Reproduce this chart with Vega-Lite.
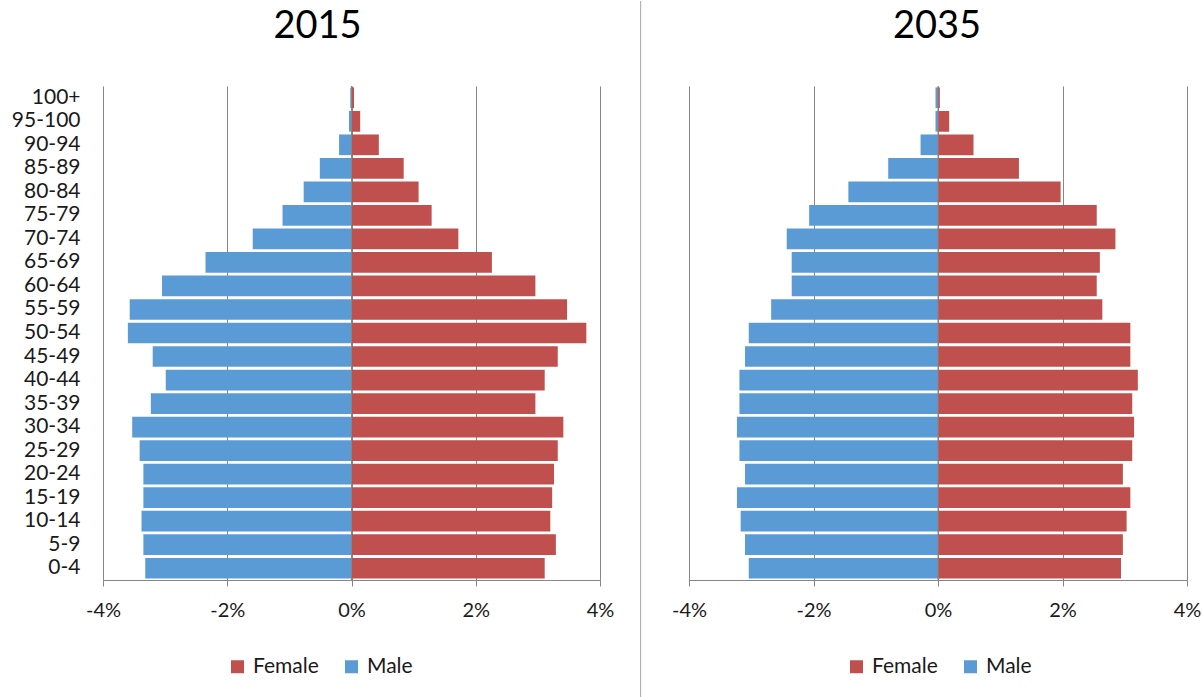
{
  "$schema": "https://vega.github.io/schema/vega-lite/v6.json",
  "padding": {"left": 11, "top": 0, "right": 0, "bottom": 0},
  "bounds": "flush",
  "spacing": 89,
  "datasets": {
    "y2015": [
      {"age": "100+", "sex": "Male", "share": -0.0002}, {"age": "100+", "sex": "Female", "share": 0.0004},
      {"age": "95-100", "sex": "Male", "share": -0.0004}, {"age": "95-100", "sex": "Female", "share": 0.0014},
      {"age": "90-94", "sex": "Male", "share": -0.0020}, {"age": "90-94", "sex": "Female", "share": 0.0044},
      {"age": "85-89", "sex": "Male", "share": -0.0051}, {"age": "85-89", "sex": "Female", "share": 0.0084},
      {"age": "80-84", "sex": "Male", "share": -0.0077}, {"age": "80-84", "sex": "Female", "share": 0.0108},
      {"age": "75-79", "sex": "Male", "share": -0.0111}, {"age": "75-79", "sex": "Female", "share": 0.0129},
      {"age": "70-74", "sex": "Male", "share": -0.0159}, {"age": "70-74", "sex": "Female", "share": 0.0172},
      {"age": "65-69", "sex": "Male", "share": -0.0235}, {"age": "65-69", "sex": "Female", "share": 0.0226},
      {"age": "60-64", "sex": "Male", "share": -0.0305}, {"age": "60-64", "sex": "Female", "share": 0.0296},
      {"age": "55-59", "sex": "Male", "share": -0.0357}, {"age": "55-59", "sex": "Female", "share": 0.0347},
      {"age": "50-54", "sex": "Male", "share": -0.0360}, {"age": "50-54", "sex": "Female", "share": 0.0378},
      {"age": "45-49", "sex": "Male", "share": -0.0320}, {"age": "45-49", "sex": "Female", "share": 0.0332},
      {"age": "40-44", "sex": "Male", "share": -0.0299}, {"age": "40-44", "sex": "Female", "share": 0.0311},
      {"age": "35-39", "sex": "Male", "share": -0.0323}, {"age": "35-39", "sex": "Female", "share": 0.0296},
      {"age": "30-34", "sex": "Male", "share": -0.0353}, {"age": "30-34", "sex": "Female", "share": 0.0341},
      {"age": "25-29", "sex": "Male", "share": -0.0341}, {"age": "25-29", "sex": "Female", "share": 0.0332},
      {"age": "20-24", "sex": "Male", "share": -0.0335}, {"age": "20-24", "sex": "Female", "share": 0.0326},
      {"age": "15-19", "sex": "Male", "share": -0.0335}, {"age": "15-19", "sex": "Female", "share": 0.0323},
      {"age": "10-14", "sex": "Male", "share": -0.0338}, {"age": "10-14", "sex": "Female", "share": 0.0320},
      {"age": "5-9", "sex": "Male", "share": -0.0335}, {"age": "5-9", "sex": "Female", "share": 0.0329},
      {"age": "0-4", "sex": "Male", "share": -0.0332}, {"age": "0-4", "sex": "Female", "share": 0.0311}
    ],
    "y2035": [
      {"age": "100+", "sex": "Male", "share": -0.0004}, {"age": "100+", "sex": "Female", "share": 0.0003},
      {"age": "95-100", "sex": "Male", "share": -0.0004}, {"age": "95-100", "sex": "Female", "share": 0.0018},
      {"age": "90-94", "sex": "Male", "share": -0.0028}, {"age": "90-94", "sex": "Female", "share": 0.0057},
      {"age": "85-89", "sex": "Male", "share": -0.0080}, {"age": "85-89", "sex": "Female", "share": 0.0130},
      {"age": "80-84", "sex": "Male", "share": -0.0144}, {"age": "80-84", "sex": "Female", "share": 0.0197},
      {"age": "75-79", "sex": "Male", "share": -0.0207}, {"age": "75-79", "sex": "Female", "share": 0.0255},
      {"age": "70-74", "sex": "Male", "share": -0.0243}, {"age": "70-74", "sex": "Female", "share": 0.0285},
      {"age": "65-69", "sex": "Male", "share": -0.0235}, {"age": "65-69", "sex": "Female", "share": 0.0260},
      {"age": "60-64", "sex": "Male", "share": -0.0235}, {"age": "60-64", "sex": "Female", "share": 0.0255},
      {"age": "55-59", "sex": "Male", "share": -0.0268}, {"age": "55-59", "sex": "Female", "share": 0.0264},
      {"age": "50-54", "sex": "Male", "share": -0.0304}, {"age": "50-54", "sex": "Female", "share": 0.0309},
      {"age": "45-49", "sex": "Male", "share": -0.0310}, {"age": "45-49", "sex": "Female", "share": 0.0309},
      {"age": "40-44", "sex": "Male", "share": -0.0319}, {"age": "40-44", "sex": "Female", "share": 0.0321},
      {"age": "35-39", "sex": "Male", "share": -0.0319}, {"age": "35-39", "sex": "Female", "share": 0.0312},
      {"age": "30-34", "sex": "Male", "share": -0.0323}, {"age": "30-34", "sex": "Female", "share": 0.0315},
      {"age": "25-29", "sex": "Male", "share": -0.0319}, {"age": "25-29", "sex": "Female", "share": 0.0312},
      {"age": "20-24", "sex": "Male", "share": -0.0310}, {"age": "20-24", "sex": "Female", "share": 0.0297},
      {"age": "15-19", "sex": "Male", "share": -0.0323}, {"age": "15-19", "sex": "Female", "share": 0.0309},
      {"age": "10-14", "sex": "Male", "share": -0.0317}, {"age": "10-14", "sex": "Female", "share": 0.0303},
      {"age": "5-9", "sex": "Male", "share": -0.0310}, {"age": "5-9", "sex": "Female", "share": 0.0297},
      {"age": "0-4", "sex": "Male", "share": -0.0304}, {"age": "0-4", "sex": "Female", "share": 0.0294}
    ]
  },
  "hconcat": [
    {
      "width": 497,
      "height": 494,
      "title": {"text": "2015", "frame": "group", "fontSize": 38, "fontWeight": "normal", "color": "#000000", "offset": 0, "dy": 45, "dx": -34},
      "resolve": {"scale": {"y": "independent"}, "axis": {"y": "independent"}},
      "layer": [
        {
          "data": {"name": "y2015"},
          "mark": {"type": "bar"},
          "encoding": {
            "y": {"field": "age", "type": "nominal",
              "sort": ["100+", "95-100", "90-94", "85-89", "80-84", "75-79", "70-74", "65-69", "60-64", "55-59", "50-54", "45-49", "40-44", "35-39", "30-34", "25-29", "20-24", "15-19", "10-14", "5-9", "0-4"],
              "scale": {"paddingInner": 0.12, "paddingOuter": 0.06},
              "axis": {"title": null, "domain": false, "ticks": false, "labelPadding": 23, "labelFontSize": 21, "labelColor": "#1a1a1a"}},
            "x": {"field": "share", "type": "quantitative",
              "scale": {"domain": [-0.04, 0.04], "nice": false},
              "axis": {"title": null, "values": [-0.04, -0.02, 0, 0.02, 0.04], "labelExpr": "round(datum.value*100) + '%'", "grid": true, "gridColor": "#868686", "gridOpacity": 1, "domainColor": "#868686", "tickColor": "#868686", "tickSize": 6, "labelPadding": 14, "labelFontSize": 20, "labelColor": "#1a1a1a", "labelFlush": false}},
            "color": {"field": "sex", "type": "nominal",
              "scale": {"domain": ["Female", "Male"], "range": ["#C0504D", "#5B9BD5"]},
              "legend": {"title": null, "orient": "none", "direction": "horizontal", "legendX": 124, "legendY": 570, "symbolType": "square", "symbolSize": 169, "symbolStrokeWidth": 0, "symbolOpacity": 1, "labelFontSize": 21, "labelOffset": 5, "columnPadding": 22, "labelColor": "#1a1a1a"}}
          }
        },
        {
          "data": {"values": [{}]},
          "mark": {"type": "rule", "color": "#868686"},
          "encoding": {"x": {"datum": 0}}
        },
        {
          "data": {"values": [{}]},
          "mark": {"type": "rule", "color": "#A6A6A6", "clip": false},
          "encoding": {
            "x": {"datum": 0.04654},
            "y": {"datum": 1.172, "type": "quantitative", "scale": {"domain": [0, 1], "nice": false, "zero": false}, "axis": null},
            "y2": {"datum": -0.239}
          }
        }
      ]
    },
    {
      "width": 498,
      "height": 494,
      "title": {"text": "2035", "frame": "group", "fontSize": 38, "fontWeight": "normal", "color": "#000000", "offset": 40, "dx": -1},
      "layer": [
        {
          "data": {"name": "y2035"},
          "mark": {"type": "bar"},
          "encoding": {
            "y": {"field": "age", "type": "nominal",
              "sort": ["100+", "95-100", "90-94", "85-89", "80-84", "75-79", "70-74", "65-69", "60-64", "55-59", "50-54", "45-49", "40-44", "35-39", "30-34", "25-29", "20-24", "15-19", "10-14", "5-9", "0-4"],
              "scale": {"paddingInner": 0.12, "paddingOuter": 0.06},
              "axis": null},
            "x": {"field": "share", "type": "quantitative",
              "scale": {"domain": [-0.04, 0.04], "nice": false},
              "axis": {"title": null, "values": [-0.04, -0.02, 0, 0.02, 0.04], "labelExpr": "round(datum.value*100) + '%'", "grid": true, "gridColor": "#868686", "gridOpacity": 1, "domainColor": "#868686", "tickColor": "#868686", "tickSize": 6, "labelPadding": 14, "labelFontSize": 20, "labelColor": "#1a1a1a", "labelFlush": false}},
            "color": {"field": "sex", "type": "nominal",
              "scale": {"domain": ["Female", "Male"], "range": ["#C0504D", "#5B9BD5"]},
              "legend": {"title": null, "orient": "none", "direction": "horizontal", "legendX": 157, "legendY": 570, "symbolType": "square", "symbolSize": 169, "symbolStrokeWidth": 0, "symbolOpacity": 1, "labelFontSize": 21, "labelOffset": 5, "columnPadding": 22, "labelColor": "#1a1a1a"}}
          }
        },
        {
          "data": {"values": [{}]},
          "mark": {"type": "rule", "color": "#868686"},
          "encoding": {"x": {"datum": 0}}
        }
      ]
    }
  ],
  "resolve": {"scale": {"color": "independent", "x": "independent", "y": "independent"}},
  "config": {
    "font": "Lato",
    "view": {"stroke": null},
    "legend": {"padding": 0}
  }
}
